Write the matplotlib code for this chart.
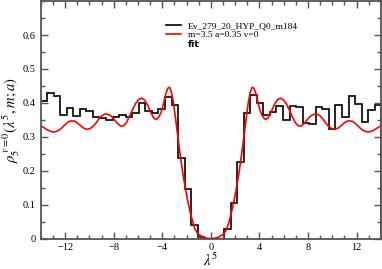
import numpy as np
import matplotlib
matplotlib.use("Agg")
import matplotlib.pyplot as plt
from matplotlib.lines import Line2D
from matplotlib.ticker import MultipleLocator

plt.rcParams['font.family'] = ['Liberation Serif', 'DejaVu Serif']
plt.rcParams['mathtext.fontset'] = 'stix'

# histogram (bin width ~0.54, edges symmetric about 0)
bin_edges = np.linspace(-14.04, 14.04, 53)
hist_vals = [0.405, 0.429, 0.421, 0.364, 0.384, 0.361, 0.381, 0.376, 0.357, 0.354,
             0.350, 0.357, 0.365, 0.357, 0.370, 0.399, 0.376, 0.371, 0.383, 0.418,
             0.393,
             0.237, 0.147, 0.040, 0.006, 0.0, 0.0, 0.0, 0.027, 0.105, 0.225,
             0.370, 0.422, 0.400, 0.364, 0.373, 0.391, 0.349, 0.390, 0.388, 0.342,
             0.337, 0.388, 0.381, 0.323, 0.393, 0.357, 0.420, 0.396, 0.345, 0.378,
             0.394]

# fit curve (right half, mirrored)
fit_x_half = [0.0, 0.3, 0.6, 0.9, 1.1, 1.3, 1.5, 1.7, 1.9, 2.1, 2.3, 2.5, 2.7, 2.9,
              3.1, 3.25, 3.4, 3.55, 3.7, 3.9, 4.1, 4.3, 4.5, 4.7, 4.95, 5.2, 5.45,
              5.7, 5.95, 6.2, 6.45, 6.7, 6.95, 7.2, 7.45, 7.7, 7.95, 8.2, 8.45, 8.7,
              8.95, 9.2, 9.45, 9.7, 9.95, 10.2, 10.45, 10.7, 10.95, 11.2, 11.45,
              11.7, 11.95, 12.2, 12.45, 12.7, 12.95, 13.2, 13.45, 13.7, 14.0]
fit_y_half = [0.0, 0.001, 0.004, 0.010, 0.016, 0.028, 0.050, 0.078, 0.110, 0.148,
              0.190, 0.240, 0.295, 0.352, 0.405, 0.432, 0.446, 0.443, 0.428, 0.398,
              0.372, 0.358, 0.351, 0.355, 0.372, 0.393, 0.408, 0.414, 0.410, 0.398,
              0.380, 0.360, 0.342, 0.332, 0.332, 0.340, 0.351, 0.361, 0.366, 0.367,
              0.363, 0.354, 0.341, 0.331, 0.324, 0.322, 0.325, 0.332, 0.340, 0.346,
              0.347, 0.345, 0.338, 0.329, 0.321, 0.316, 0.314, 0.316, 0.320, 0.326,
              0.332]
fit_x = np.concatenate([-np.array(fit_x_half[::-1]), fit_x_half[1:]])
fit_y = np.concatenate([fit_y_half[::-1], fit_y_half[1:]])

x_ticks = [-12, -8, -4, 0, 4, 8, 12]
y_ticks = [0, 0.1, 0.2, 0.3, 0.4, 0.5, 0.6]
y_tick_labels = ['0', '0.1', '0.2', '0.3', '0.4', '0.5', '0.6']

fig = plt.figure(figsize=(3.82, 2.69), dpi=100)
ax = fig.add_axes([0.107, 0.113, 0.89, 0.883])

ax.stairs(hist_vals, bin_edges, color='black', lw=1.2)
ax.plot(fit_x, fit_y, color='red', lw=1.2)

ax.set_xlim(-14, 14)
ax.set_ylim(0, 0.7)
ax.set_xticks(x_ticks)
ax.set_yticks(y_ticks)
ax.set_yticklabels(y_tick_labels)
ax.xaxis.set_minor_locator(MultipleLocator(1))
ax.yaxis.set_minor_locator(MultipleLocator(0.05))
ax.tick_params(which='both', direction='in', top=True, right=True,
               color='#555555', width=1, labelsize=7.5)
ax.tick_params(axis='x', pad=3)
ax.tick_params(axis='y', pad=4)
ax.tick_params(which='major', length=5)
ax.tick_params(which='minor', length=3)
for s in ax.spines.values():
    s.set_color('#555555')
    s.set_linewidth(1.3)

ax.set_xlabel(r'$\lambda^5$', fontsize=10.5, labelpad=0)
ax.set_ylabel(r'$\rho_5^{\,v=0}(\lambda^5, \mathbf{\mathit{m;a}})$', fontsize=10.5, labelpad=0)

handles = [Line2D([], [], color='black', lw=1.2),
           Line2D([], [], color='red', lw=1.2),
           Line2D([], [], color='none')]
labels = ['Ev_279_20_HYP_Q0_m184', 'm=3.5 a=0.35 v=0', 'fit']
leg = ax.legend(handles, labels, loc='upper left', bbox_to_anchor=(0.358, 0.93),
                frameon=False, fontsize=6.8, handlelength=1.5, handletextpad=0.8,
                labelspacing=0.05, borderaxespad=0)
leg.get_texts()[2].set_fontfamily('DejaVu Sans')
leg.get_texts()[2].set_fontweight('bold')

fig.savefig('out.png', dpi=100)
